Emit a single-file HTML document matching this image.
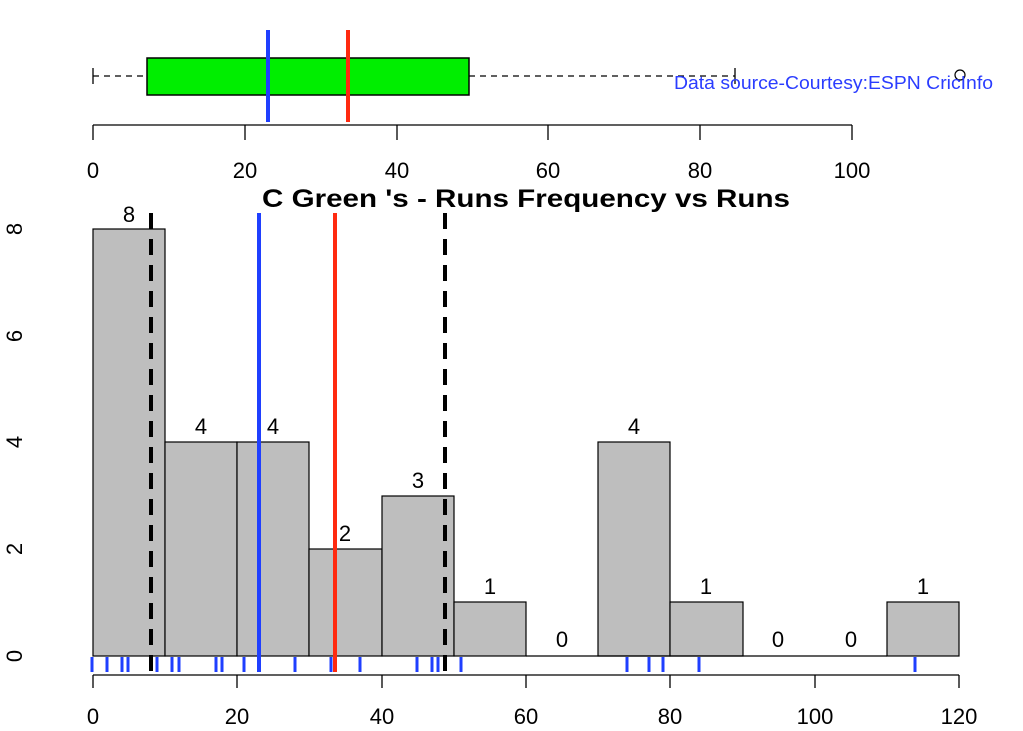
<!DOCTYPE html>
<html><head><meta charset="utf-8"><style>
html,body{margin:0;padding:0;background:#fff;}
svg{display:block;font-family:"Liberation Sans",Arial,sans-serif;}
</style></head><body>
<svg width="1023" height="731" viewBox="0 0 1023 731" xmlns="http://www.w3.org/2000/svg">
<rect width="1023" height="731" fill="#fff"/>
<line x1="93" y1="76" x2="147" y2="76" stroke="#000" stroke-dasharray="6,5" stroke-width="1.3"/>
<line x1="469" y1="76" x2="735" y2="76" stroke="#000" stroke-dasharray="6,5" stroke-width="1.3"/>
<line x1="93" y1="68" x2="93" y2="84" stroke="#000" stroke-width="1.3"/>
<line x1="735" y1="68" x2="735" y2="84" stroke="#000" stroke-width="1.3"/>
<rect x="147" y="58" width="322" height="37" fill="#00ee00" stroke="#000" stroke-width="1.5"/>
<circle cx="960" cy="75" r="5" fill="none" stroke="#000" stroke-width="1.2"/>
<line x1="268" y1="30" x2="268" y2="122" stroke="#1f3fff" stroke-width="4"/>
<line x1="348" y1="30" x2="348" y2="122" stroke="#ff2a10" stroke-width="4"/>
<text x="674" y="89" fill="#2a3cff" font-size="18" textLength="319" lengthAdjust="spacingAndGlyphs">Data source-Courtesy:ESPN CricInfo</text>
<line x1="93" y1="125" x2="852" y2="125" stroke="#000" stroke-width="1.3"/>
<g stroke="#000" stroke-width="1.3">
<line x1="93" y1="125" x2="93" y2="140"/><line x1="245" y1="125" x2="245" y2="140"/><line x1="397" y1="125" x2="397" y2="140"/><line x1="548" y1="125" x2="548" y2="140"/><line x1="700" y1="125" x2="700" y2="140"/><line x1="852" y1="125" x2="852" y2="140"/>
</g>
<g font-size="22" text-anchor="middle" fill="#000">
<text x="93" y="178">0</text><text x="245" y="178">20</text><text x="397" y="178">40</text><text x="548" y="178">60</text><text x="700" y="178">80</text><text x="852" y="178">100</text>
</g>
<text x="262" y="207" font-size="25" font-weight="bold" textLength="528" lengthAdjust="spacingAndGlyphs">C Green 's  - Runs Frequency vs Runs</text>
<g fill="#bebebe" stroke="#000" stroke-width="1.2">
<rect x="93" y="229" width="72" height="427"/>
<rect x="165" y="442" width="72" height="214"/>
<rect x="237" y="442" width="72" height="214"/>
<rect x="309" y="549" width="73" height="107"/>
<rect x="382" y="496" width="72" height="160"/>
<rect x="454" y="602" width="72" height="54"/>
<rect x="598" y="442" width="72" height="214"/>
<rect x="670" y="602" width="73" height="54"/>
<rect x="887" y="602" width="72" height="54"/>
</g>
<line x1="526" y1="656" x2="887" y2="656" stroke="#000" stroke-width="1.2"/>
<g font-size="22" text-anchor="middle" fill="#000">
<text x="129" y="222">8</text><text x="201" y="434">4</text><text x="273" y="434">4</text><text x="345" y="541">2</text><text x="418" y="488">3</text><text x="490" y="594">1</text><text x="562" y="647">0</text><text x="634" y="434">4</text><text x="706" y="594">1</text><text x="778" y="647">0</text><text x="851" y="647">0</text><text x="923" y="594">1</text>
</g>
<line x1="151" y1="213" x2="151" y2="672" stroke="#000" stroke-width="4" stroke-dasharray="16,10"/>
<line x1="445" y1="213" x2="445" y2="672" stroke="#000" stroke-width="4" stroke-dasharray="16,10"/>
<line x1="259" y1="213" x2="259" y2="672" stroke="#1f3fff" stroke-width="4"/>
<line x1="335" y1="213" x2="335" y2="672" stroke="#ff2a10" stroke-width="4"/>
<g stroke="#1f3fff" stroke-width="3">
<line x1="92" y1="657" x2="92" y2="672"/><line x1="107" y1="657" x2="107" y2="672"/><line x1="122" y1="657" x2="122" y2="672"/><line x1="128" y1="657" x2="128" y2="672"/><line x1="157" y1="657" x2="157" y2="672"/><line x1="172" y1="657" x2="172" y2="672"/><line x1="179" y1="657" x2="179" y2="672"/><line x1="216" y1="657" x2="216" y2="672"/><line x1="222" y1="657" x2="222" y2="672"/><line x1="244" y1="657" x2="244" y2="672"/><line x1="295" y1="657" x2="295" y2="672"/><line x1="331" y1="657" x2="331" y2="672"/><line x1="360" y1="657" x2="360" y2="672"/><line x1="417" y1="657" x2="417" y2="672"/><line x1="432" y1="657" x2="432" y2="672"/><line x1="438" y1="657" x2="438" y2="672"/><line x1="461" y1="657" x2="461" y2="672"/><line x1="627" y1="657" x2="627" y2="672"/><line x1="649" y1="657" x2="649" y2="672"/><line x1="663" y1="657" x2="663" y2="672"/><line x1="699" y1="657" x2="699" y2="672"/><line x1="915" y1="657" x2="915" y2="672"/>
</g>
<line x1="93" y1="675" x2="959" y2="675" stroke="#000" stroke-width="1.3"/>
<g stroke="#000" stroke-width="1.3">
<line x1="93" y1="675" x2="93" y2="688"/><line x1="237" y1="675" x2="237" y2="688"/><line x1="382" y1="675" x2="382" y2="688"/><line x1="526" y1="675" x2="526" y2="688"/><line x1="670" y1="675" x2="670" y2="688"/><line x1="815" y1="675" x2="815" y2="688"/><line x1="959" y1="675" x2="959" y2="688"/>
</g>
<g font-size="22" text-anchor="middle" fill="#000">
<text x="93" y="724">0</text><text x="237" y="724">20</text><text x="382" y="724">40</text><text x="526" y="724">60</text><text x="670" y="724">80</text><text x="815" y="724">100</text><text x="959" y="724">120</text>
</g>
<g font-size="22" text-anchor="middle" fill="#000">
<text transform="translate(22,656) rotate(-90)">0</text>
<text transform="translate(22,549) rotate(-90)">2</text>
<text transform="translate(22,442) rotate(-90)">4</text>
<text transform="translate(22,336) rotate(-90)">6</text>
<text transform="translate(22,229) rotate(-90)">8</text>
</g>
</svg>
</body></html>
